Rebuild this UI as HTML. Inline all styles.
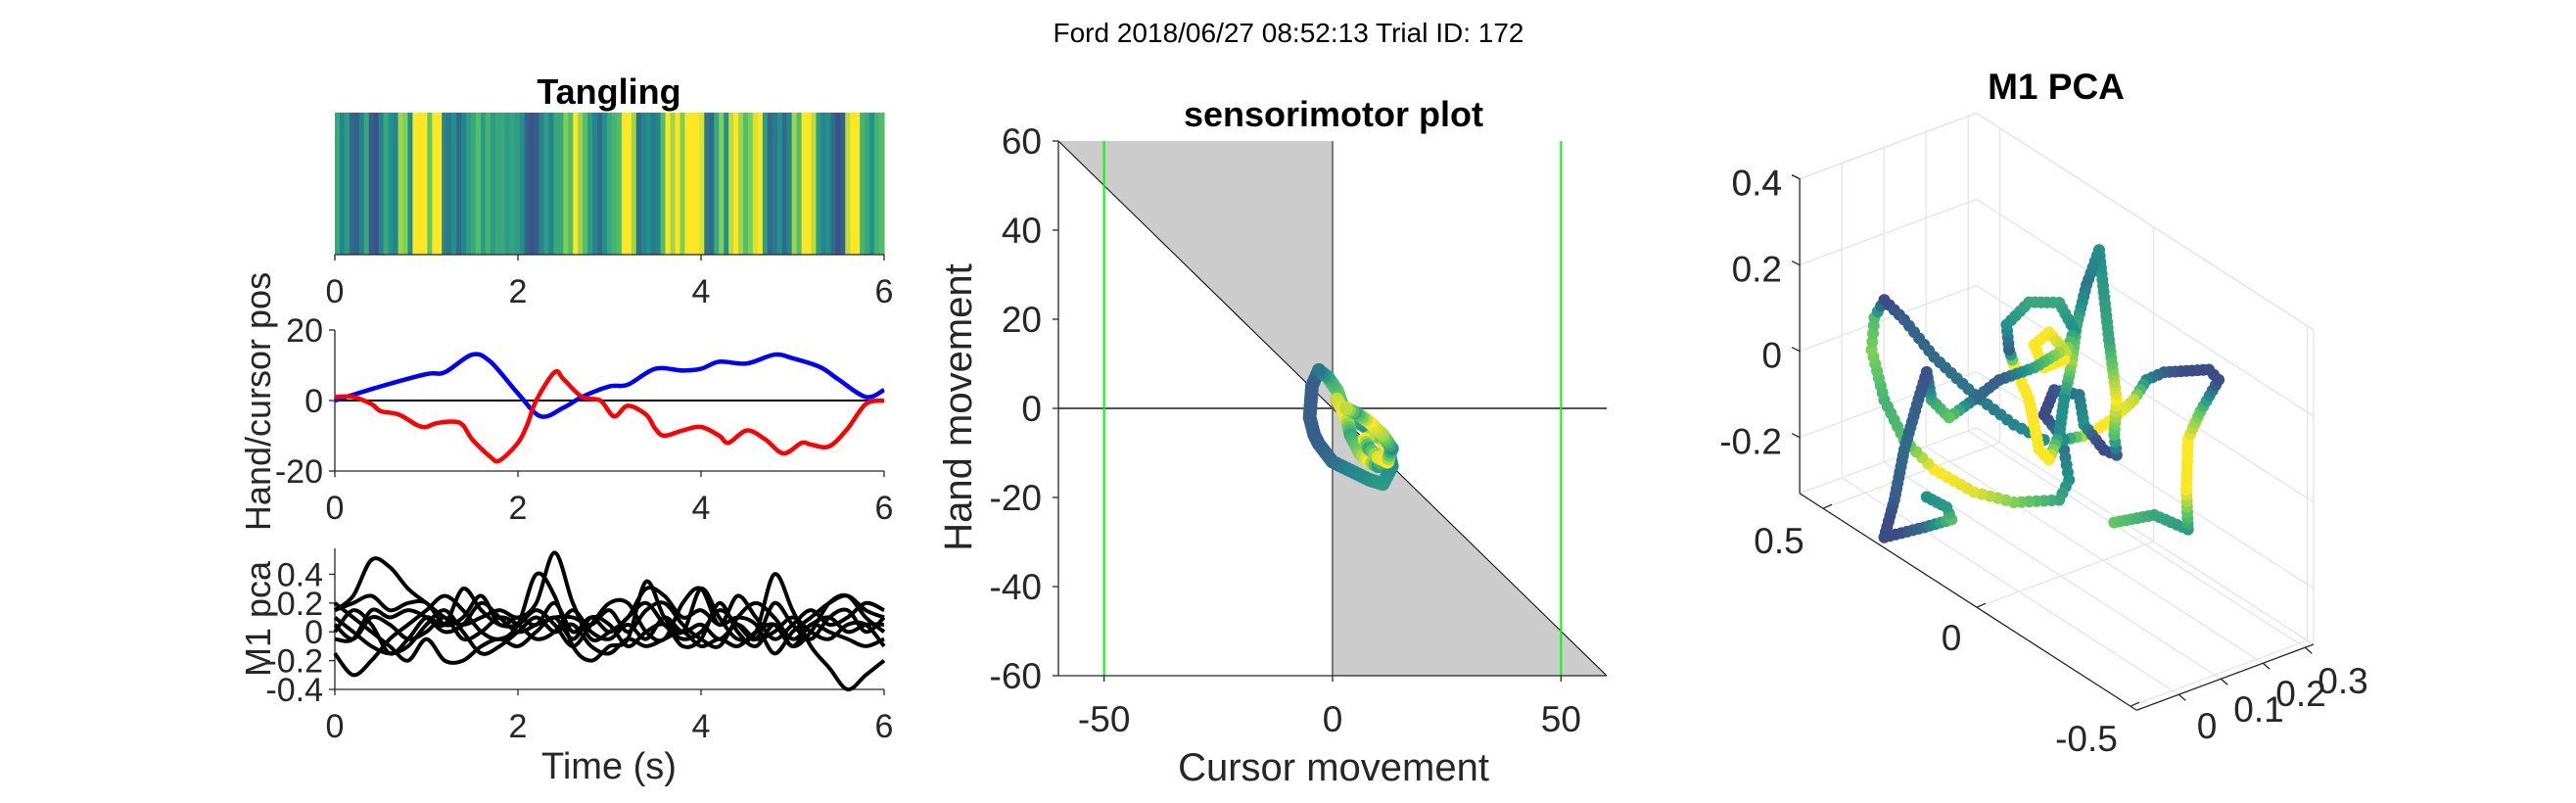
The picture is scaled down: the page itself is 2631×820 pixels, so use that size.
<!DOCTYPE html>
<html><head><meta charset="utf-8"><style>
html,body{margin:0;padding:0;background:#fff;}
svg{display:block;font-family:"Liberation Sans",Arial,sans-serif;}
</style></head><body>
<svg id="fig" width="2631" height="820" viewBox="0 0 2631 820" xmlns="http://www.w3.org/2000/svg">
<rect x="0" y="0" width="2631" height="820" fill="#fff"/>
<text x="1316" y="43" font-size="28" text-anchor="middle" fill="#000">Ford 2018/06/27 08:52:13 Trial ID: 172</text>
<g id="p1"></g>
<g id="p2"></g>
<g id="p3"></g>
<g id="pc"></g>
<g id="p3d"></g>
</svg>
<script>
// ---------- DATA ----------
const tangling = [0.6,0.45,0.55,0.35,0.3,0.45,0.6,0.3,0.25,0.45,0.6,0.5,0.45,0.85,0.8,0.5,1,1,1,0.75,1,1,0.45,0.4,0.5,0.35,0.45,0.55,0.6,0.7,0.55,0.65,0.55,0.6,0.6,0.55,0.58,0.55,0.5,0.3,0.25,0.3,0.45,0.55,0.45,0.6,0.6,0.8,0.7,1,0.85,0.7,0.55,0.45,0.35,0.5,0.6,0.65,
0.7,1,1,0.85,0.35,0.45,0.5,0.4,0.45,0.7,1,0.85,1,0.8,1,1,1,0.95,0.4,0.35,0.6,0.8,0.5,0.9,1,0.85,0.7,0.8,0.95,1,0.55,0.35,0.4,0.5,0.35,0.45,0.85,0.7,1,1,0.9,0.55,0.45,0.5,0.35,0.25,0.3,0.9,1,1,0.65,0.6,0.5,0.65,0.7];
const handT = [0,0.5,1.0,1.2,1.5,1.7,2.0,2.25,2.5,2.7,3.0,3.2,3.5,3.8,4.0,4.2,4.5,4.8,5.0,5.3,5.5,5.8,6.0];
const handPos = [0,4,7.5,8,13,11,2,-4.5,-2,1,4,4.5,9,8.5,9,11,10.5,13,12,9.5,6,1,3];
const cursorT = [0,0.2,0.4,0.5,0.7,0.9,1.0,1.1,1.3,1.4,1.5,1.7,1.8,2.0,2.1,2.2,2.4,2.5,2.7,2.9,3.05,3.2,3.4,3.5,3.6,3.8,4.0,4.2,4.3,4.5,4.7,4.9,5.1,5.2,5.4,5.6,5.8,6.0];
const cursorPos = [1,1,-1,-3,-4,-7,-7.5,-6.5,-6,-7,-11,-16,-17,-12,-7,0,8,6,1,0,-4.5,-1.5,-4,-8,-10,-8.5,-7.5,-10,-12,-8.5,-11,-15,-12,-12.5,-13,-8,-1,0];
const pcaT = [0,0.2,0.4,0.6,0.8,1.0,1.2,1.4,1.6,1.8,2.0,2.2,2.4,2.6,2.8,3.0,3.2,3.4,3.6,3.8,4.0,4.2,4.4,4.6,4.8,5.0,5.2,5.4,5.6,5.8,6.0];
const pcA = [0.15,0.25,0.5,0.45,0.3,0.2,0.1,0.05,0.1,0.15,0.1,0.2,0.55,0.2,-0.05,0,0.1,0.3,0.25,0.1,0.15,0.05,0.1,0.05,-0.15,0,0.1,0.2,0.25,0.15,0.1];
const pcB = [-0.15,-0.3,-0.2,-0.05,0.05,0.15,0.25,0.15,0,-0.05,0.05,0.4,0.25,-0.1,-0.2,-0.1,-0.05,0.35,0.1,0,0.3,0.1,-0.05,0,0.4,0.15,-0.1,-0.25,-0.4,-0.3,-0.2];
const pcC = [0.2,0.1,0,-0.1,-0.2,-0.05,-0.2,-0.2,-0.1,-0.05,-0.1,0,0.1,-0.05,0.1,0.05,-0.1,0,0.05,-0.1,-0.05,0.2,0,-0.1,0.05,-0.1,0,0.2,0.25,0.1,0];
const pcD = [0,0.15,0.05,-0.15,-0.05,0.1,0.05,0.3,0.15,0.05,0.05,0.15,0.05,-0.1,0.05,0.2,0.2,0,-0.05,0.2,0.3,0.05,0.25,0.1,-0.05,0.05,0.15,0.05,0.1,0.2,0.15];
const pcE = [-0.05,-0.05,0.15,0.1,0.15,0.1,0,0.05,0.2,0.1,0,0.05,0.1,0.1,0.05,0.15,0,0.15,0.2,0.05,-0.05,-0.1,0.1,0.2,0.1,-0.05,0.05,0.1,0,0.05,0.05];
const pcF = [0.1,0,-0.1,-0.15,-0.1,0.05,0.15,0,-0.15,-0.1,0,0.1,0,0.05,-0.1,-0.15,-0.05,-0.1,-0.05,0,-0.1,-0.05,-0.1,0,0.05,-0.1,0.05,0,-0.05,-0.1,-0.05];
const pcG = [0.15,0.2,0.25,0.15,0.2,0.2,0.05,0.1,0.25,0.05,0.1,0.05,0.2,0,0.1,0,0.1,0.2,0.05,-0.05,0,0.15,0.05,-0.05,0.2,0.05,-0.05,0.1,0.15,0,0.1];
const pcH = [0.05,-0.05,0.1,0.05,-0.05,0,0.1,-0.05,0,0.1,0.05,-0.05,0,0.15,0,-0.05,0.05,-0.05,0.1,0,0.05,-0.05,0.05,-0.05,0,0.1,0,-0.05,0.05,0.05,-0.1];
// sensorimotor trajectories (cursor movement, hand movement, tangling colour)
const smCursor1 = [-3,-4.5,-5,-4,-3,0,4,8,11,13,12,10,7,4,2,1,-1,-3];
const smHand1 = [8.6,5,-2,-6,-8,-12,-14,-16,-17,-13,-8,-6,-4,-2,1,4,7,8.5];
const smCol1 = [0.35,0.3,0.3,0.3,0.3,0.35,0.45,0.5,0.55,0.5,0.45,0.4,0.5,0.6,0.7,0.75,0.6,0.4];
const smCursor2 = [1,3,4,6,8,10,12,11,9,7,8,10,12,13,11,8,5,3];
const smHand2 = [2,-2,-6,-10,-12,-13,-10,-7,-6,-7,-9,-11,-12,-9,-6,-3,-1,0];
const smCol2 = [0.9,1,0.6,0.8,1,0.55,0.9,1,0.7,1,0.6,0.95,1,0.5,0.85,1,0.6,0.9];
// 3D M1 PCA trajectories (pc1, pc2, pc3, tangling colour)
const t1x = [-0.31,-0.44,-0.55,-0.545,-0.55,-0.59,-0.65,-0.618,-0.472,-0.415,-0.374,-0.31,-0.228,-0.147,-0.082,-0.115,-0.196,-0.212,-0.277,-0.318,-0.31,-0.318,-0.293,-0.261,-0.22,-0.188,-0.171,-0.147,-0.131,-0.098,-0.066,-0.033,0.016,0.032,0.04,-0.033,-0.131,-0.18,-0.147,-0.082,-0.05,-0.098,-0.147,-0.05,0.064,0.146,0.227,0.284,0.3,0.332,0.373,0.405,0.438,0.308,0.219,0.235,0.3];
const t1y = t1x.map(()=>0);
const t1z = [-0.027,0.05,0.067,0.157,0.276,0.359,0.46,0.469,0.396,0.352,0.287,0.216,0.139,0.09,0.118,0.191,0.217,0.155,0.126,0.133,0.176,0.261,0.389,0.583,0.483,0.375,0.275,0.183,0.094,0.021,0.03,0.131,0.189,0.217,0.271,0.357,0.401,0.36,0.276,0.228,0.266,0.317,0.299,0.213,0.132,0.049,-0.03,-0.015,0.042,-0.049,-0.172,-0.303,-0.405,-0.322,-0.263,-0.242,-0.248];
const t1c = [0.75,0.6,0.55,1,1,0.75,0.2,0.1,0.3,0.45,0.9,1,1,0.5,0.2,0.25,0.4,0.5,0.1,0.3,0.7,1,0.6,0.5,0.4,0.6,0.85,0.5,0.5,1,1,1,1,0.3,0.5,0.6,0.6,0.5,1,1,1,1,0.9,0.6,0.3,0.35,0.75,0.6,0.25,0.3,0.35,0.3,0.15,0.35,0.7,0.55,0.5];
const t2x = [-0.147,-0.163,-0.131,0.016,0.146,0.276,0.373,0.438,0.479,0.47,0.438,0.373,0.276,0.146,0.016,-0.082];
const t2y = t2x.map(()=>0);
const t2z = [0.067,0.004,-0.057,-0.13,-0.166,-0.173,-0.149,-0.086,0.012,0.09,0.146,0.13,0.088,0.061,0.05,0.06];
const t2c = [0.4,0.5,0.6,0.8,0.95,1,0.7,0.65,0.8,0.7,0.2,0.3,0.35,0.4,0.45,0.5];
const ticks6 = [0,2,4,6];
const hcTicks = [-20,0,20];
const pcaTicks = [-0.4,-0.2,0,0.2,0.4];
const smTicksX = [-50,0,50];
const smTicksY = [-60,-40,-20,0,20,40,60];
const d3X = [-0.5,0,0.5];
const d3Y = [0,0.1,0.2,0.3];
const d3Z = [-0.2,0,0.2,0.4];

// ---------- HELPERS ----------
const NS='http://www.w3.org/2000/svg';
function mk(tag,parent,attrs){const e=document.createElementNS(NS,tag);for(const k in attrs)e.setAttribute(k,attrs[k]);parent.appendChild(e);return e;}
function viridis(v){
  const s=[[68,1,84],[59,82,139],[33,145,140],[94,201,98],[253,231,37]];
  v=Math.max(0.23,Math.min(1,v));const f=v*4,i=Math.min(3,Math.floor(f)),t=f-i;
  const c=s[i].map((a,k)=>Math.round(a+(s[i+1][k]-a)*t));return `rgb(${c[0]},${c[1]},${c[2]})`;}
function smooth(pts){let d=`M${pts[0][0]},${pts[0][1]}`;
  for(let i=0;i<pts.length-1;i++){const p0=pts[Math.max(0,i-1)],p1=pts[i],p2=pts[i+1],p3=pts[Math.min(pts.length-1,i+2)];
    d+=` C${p1[0]+(p2[0]-p0[0])/6},${p1[1]+(p2[1]-p0[1])/6} ${p2[0]-(p3[0]-p1[0])/6},${p2[1]-(p3[1]-p1[1])/6} ${p2[0]},${p2[1]}`;}return d;}
function txt(parent,x,y,s,size,anchor,weight,fill){const t=mk('text',parent,{x:x,y:y,'font-size':size,'text-anchor':anchor||'middle','font-weight':weight||'normal',fill:fill||'#262626'});t.textContent=s;return t;}
function dotsAlong(parent,pts,cols,spacing,r,name){
  for(let i=0;i<pts.length-1;i++){const a=pts[i],b=pts[i+1];const L=Math.hypot(b[0]-a[0],b[1]-a[1]);const n=Math.max(1,Math.round(L/spacing));
    for(let j=0;j<n;j++){const f=j/n;const c=mk('circle',parent,{cx:a[0]+(b[0]-a[0])*f,cy:a[1]+(b[1]-a[1])*f,r:r,fill:viridis(cols[i]+(cols[i+1]-cols[i])*f)});
      
      }}
  const l=pts[pts.length-1];const c=mk('circle',parent,{cx:l[0],cy:l[1],r:r,fill:viridis(cols[cols.length-1])});
  
  }

// ---------- LEFT PANELS ----------
const L=342,R=903;const tx=t=>L+(R-L)*t/6;
function xAxisTicks(g,yb){mk('line',g,{x1:L,y1:yb,x2:R,y2:yb,stroke:'#262626','stroke-width':1.3});
  ticks6.forEach(t=>{mk('line',g,{x1:tx(t),y1:yb,x2:tx(t),y2:yb+6,stroke:'#262626','stroke-width':1.3});
    const lb=txt(g,tx(t),yb+49,String(t),34);});}
// heatmap
const g1=document.getElementById('p1');
const cw=(R-L)/tangling.length;
tangling.forEach((v,i)=>{const r=mk('rect',g1,{x:L+i*cw,y:115,width:cw+0.6,height:145,fill:viridis(v)});
  
  });
xAxisTicks(g1,260);
const tt1=txt(g1,622,106,'Tangling',36,'middle','bold','#000');
// hand/cursor
const g2=document.getElementById('p2');const y2=v=>409-(v)*(481-337)/40;
mk('line',g2,{x1:L,y1:337,x2:L,y2:481,stroke:'#262626','stroke-width':1.3});
hcTicks.forEach(v=>{mk('line',g2,{x1:L-6,y1:y2(v),x2:L,y2:y2(v),stroke:'#262626','stroke-width':1.3});
  const lb=txt(g2,330,y2(v)+12,String(v),34,'end');});
xAxisTicks(g2,481);
const zl=mk('line',g2,{x1:L,y1:y2(0),x2:R,y2:y2(0),stroke:'#000','stroke-width':2});
const hp=mk('path',g2,{d:smooth(handT.map((t,i)=>[tx(t),y2(handPos[i])])),fill:'none',stroke:'#0000ff','stroke-width':4.5});

const cp=mk('path',g2,{d:smooth(cursorT.map((t,i)=>[tx(t),y2(cursorPos[i])])),fill:'none',stroke:'#ff0000','stroke-width':4.5});

const yl2=txt(g2,0,0,'Hand/cursor pos',36);yl2.setAttribute('transform','translate(276,410) rotate(-90)');

// M1 pca
const g3=document.getElementById('p3');const y3=v=>704-(v+0.4)*(704-560)/0.98;
mk('line',g3,{x1:L,y1:560,x2:L,y2:704,stroke:'#262626','stroke-width':1.3});
pcaTicks.forEach(v=>{mk('line',g3,{x1:L-6,y1:y3(v),x2:L,y2:y3(v),stroke:'#262626','stroke-width':1.3});
  const lb=txt(g3,330,y3(v)+12,String(v),34,'end');});
xAxisTicks(g3,704);
[pcA,pcB,pcC,pcD,pcE,pcF,pcG,pcH].forEach(s=>{const p=mk('path',g3,{d:smooth(pcaT.map((t,i)=>[tx(t),y3(s[i])])),fill:'none',stroke:'#000','stroke-width':4});
  });
const yl3=txt(g3,0,0,'M1 pca',36);yl3.setAttribute('transform','translate(276,632) rotate(-90)');

const xl3=txt(g3,622,795,'Time (s)',38);

// ---------- SENSORIMOTOR ----------
const gc=document.getElementById('pc');const CL=1081,CR=1641,CT=144,CB=690;
const sx=v=>CL+(v+60)*(CR-CL)/120, sy=v=>CB-(v+60)*(CB-CT)/120;
const sh=mk('path',gc,{d:`M${sx(-60)},${sy(60)} L${sx(0)},${sy(60)} L${sx(0)},${sy(0)} Z M${sx(0)},${sy(0)} L${sx(0)},${sy(-60)} L${sx(60)},${sy(-60)} Z`,fill:'#cccccc'});

mk('line',gc,{x1:sx(-60),y1:sy(60),x2:sx(60),y2:sy(-60),stroke:'#000','stroke-width':1});
mk('line',gc,{x1:sx(0),y1:CT,x2:sx(0),y2:CB,stroke:'#7a7a7a','stroke-width':2});
mk('line',gc,{x1:CL,y1:sy(0),x2:CR,y2:sy(0),stroke:'#555','stroke-width':2});
[-50,50].forEach(v=>{const g=mk('line',gc,{x1:sx(v),y1:CT,x2:sx(v),y2:CB,stroke:'#00ff00','stroke-width':2});
  });
mk('line',gc,{x1:CL,y1:CT,x2:CL,y2:CB,stroke:'#262626','stroke-width':1.3});
mk('line',gc,{x1:CL,y1:CB,x2:CR,y2:CB,stroke:'#262626','stroke-width':1.3});
smTicksY.forEach(v=>{mk('line',gc,{x1:CL-6,y1:sy(v),x2:CL,y2:sy(v),stroke:'#262626','stroke-width':1.3});
  const lb=txt(gc,1064,sy(v)+13,String(v),37,'end');});
smTicksX.forEach(v=>{mk('line',gc,{x1:sx(v),y1:CB,x2:sx(v),y2:CB+6,stroke:'#262626','stroke-width':1.3});
  const lb=txt(gc,sx(v),747,String(v),37);});
dotsAlong(gc,smCursor1.map((v,i)=>[sx(v),sy(smHand1[i])]),smCol1,4,7,'sensorimotor-point');
dotsAlong(gc,smCursor2.map((v,i)=>[sx(v),sy(smHand2[i])]),smCol2,4,7,'sensorimotor-point');
const ct=txt(gc,1362,129,'sensorimotor plot',36,'middle','bold','#000');
const cxl=txt(gc,1362,797,'Cursor movement',40);
const cyl=txt(gc,0,0,'Hand movement',40);cyl.setAttribute('transform','translate(992,416) rotate(-90)');


// ---------- 3D PCA ----------
const g3d=document.getElementById('p3d');
const P=(x,y,z)=>[2062-314*x+430*y,459-202*x-160*y-440*z];
const XMIN=-0.52,XMAX=0.576,YMIN=-0.1,YMAX=0.32,ZMIN=-0.33,ZMAX=0.4;
const grid=(a,b)=>{const l=mk('line',g3d,{x1:a[0],y1:a[1],x2:b[0],y2:b[1],stroke:'#e3e3e3','stroke-width':1.2});
  };
d3Y.forEach(y=>grid(P(XMAX,y,ZMIN),P(XMAX,y,ZMAX)));
d3Z.concat([ZMAX]).forEach(z=>grid(P(XMAX,YMIN,z),P(XMAX,YMAX,z)));
d3X.forEach(x=>grid(P(x,YMAX,ZMIN),P(x,YMAX,ZMAX)));
d3Z.concat([ZMAX]).forEach(z=>grid(P(XMIN,YMAX,z),P(XMAX,YMAX,z)));
grid(P(XMIN,YMAX,ZMIN),P(XMIN,YMAX,ZMAX));
d3X.forEach(x=>grid(P(x,YMIN,ZMIN),P(x,YMAX,ZMIN)));
d3Y.forEach(y=>grid(P(XMIN,y,ZMIN),P(XMAX,y,ZMIN)));
grid(P(XMAX,YMAX,ZMIN),P(XMIN,YMAX,ZMIN));grid(P(XMAX,YMAX,ZMIN),P(XMAX,YMIN,ZMIN));
const ax=(a,b)=>mk('line',g3d,{x1:a[0],y1:a[1],x2:b[0],y2:b[1],stroke:'#262626','stroke-width':1.3});
ax(P(XMAX,YMIN,ZMIN),P(XMAX,YMIN,ZMAX));
ax(P(XMAX,YMIN,ZMIN),P(XMIN,YMIN,ZMIN));
ax(P(XMIN,YMIN,ZMIN),P(XMIN,YMAX,ZMIN));
d3Z.concat([0.4]).forEach(z=>{const p=P(XMAX,YMIN,z);mk('line',g3d,{x1:p[0]-8,y1:p[1]-4,x2:p[0],y2:p[1],stroke:'#262626','stroke-width':1.3});
  const lb=txt(g3d,1820,p[1]+17,String(z),37,'end');});
[[0.5,1817,565],[0,1993,664],[-0.5,2131,767]].forEach(([v,lx,ly])=>{const p=P(v,YMIN,ZMIN);mk('line',g3d,{x1:p[0],y1:p[1],x2:p[0]+9,y2:p[1]-4,stroke:'#262626','stroke-width':1.3});
  const lb=txt(g3d,lx,ly,String(v),37);});
[[0,2254,754],[0.1,2307,737],[0.2,2350,721],[0.3,2393,708]].forEach(([v,lx,ly])=>{const p=P(XMIN,v,ZMIN);mk('line',g3d,{x1:p[0],y1:p[1],x2:p[0]+7,y2:p[1]+6,stroke:'#262626','stroke-width':1.3});
  const lb=txt(g3d,lx,ly,String(v),37);});
dotsAlong(g3d,t2x.map((x,i)=>P(x,t2y[i],t2z[i])),t2c,8,6,'pca-3d-point');
dotsAlong(g3d,t1x.map((x,i)=>P(x,t1y[i],t1z[i])),t1c,6,6,'pca-3d-point');
const t3=txt(g3d,2100,101,'M1 PCA',37,'middle','bold','#000');
</script>
</body></html>
